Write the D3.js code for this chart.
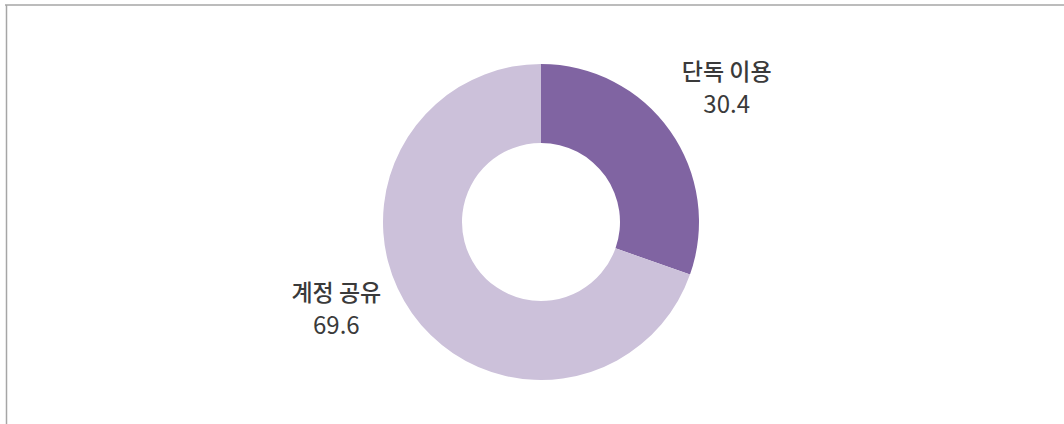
<!DOCTYPE html>
<html>
<head>
<meta charset="utf-8">
<script src="https://cdn.jsdelivr.net/npm/d3@7"></script>
<style>
  body { margin: 0; background: #fff; }
  text { font-family: "Noto Sans CJK KR", "Noto Sans", sans-serif; fill: #3a3a3a; }
</style>
</head>
<body>
<div id="chart"></div>
<script>
// data
var categories = ["단독 이용", "계정 공유"];
var values = [30.4, 69.6];
var colors = ["#8064a2", "#ccc1da"];

var width = 1064, height = 424;
var cx = 541, cy = 222, outerR = 158, innerR = 79;

var svg = d3.select("#chart")
  .append("svg")
  .attr("width", width)
  .attr("height", height);

// frame lines (top and left)
svg.append("line")
  .attr("x1", 5).attr("x2", width)
  .attr("y1", 5).attr("y2", 5)
  .attr("stroke", "#a6a6a6").attr("stroke-width", 1.5);
svg.append("line")
  .attr("x1", 6.5).attr("x2", 6.5)
  .attr("y1", 5).attr("y2", height)
  .attr("stroke", "#a6a6a6").attr("stroke-width", 1.5);

var pie = d3.pie().sort(null).value(function (d) { return d; });
var arc = d3.arc().innerRadius(innerR).outerRadius(outerR);

var g = svg.append("g")
  .attr("transform", "translate(" + cx + "," + cy + ")");

var arcs = pie(values);

g.selectAll("path")
  .data(arcs)
  .enter()
  .append("path")
  .attr("d", arc)
  .attr("fill", function (d, i) { return colors[i]; });

// labels outside the ring
var labelArc = d3.arc().innerRadius(outerR + 40).outerRadius(outerR + 40);
var offsets = [[24, -28], [-43, -35]];

var labels = g.selectAll(".lbl")
  .data(arcs)
  .enter()
  .append("text")
  .attr("class", "lbl")
  .attr("text-anchor", "middle")
  .attr("transform", function (d, i) {
    var c = labelArc.centroid(d);
    return "translate(" + (c[0] + offsets[i][0]) + "," + (c[1] + offsets[i][1]) + ")";
  });

labels.append("tspan")
  .attr("x", 0).attr("dy", 0)
  .style("font-size", "23px")
  .style("font-weight", 500)
  .text(function (d, i) { return categories[i]; });
labels.append("tspan")
  .attr("x", 0).attr("dy", 33)
  .style("font-size", "24px")
  .style("font-weight", 400)
  .text(function (d) { return d.value.toFixed(1); });
</script>
</body>
</html>
